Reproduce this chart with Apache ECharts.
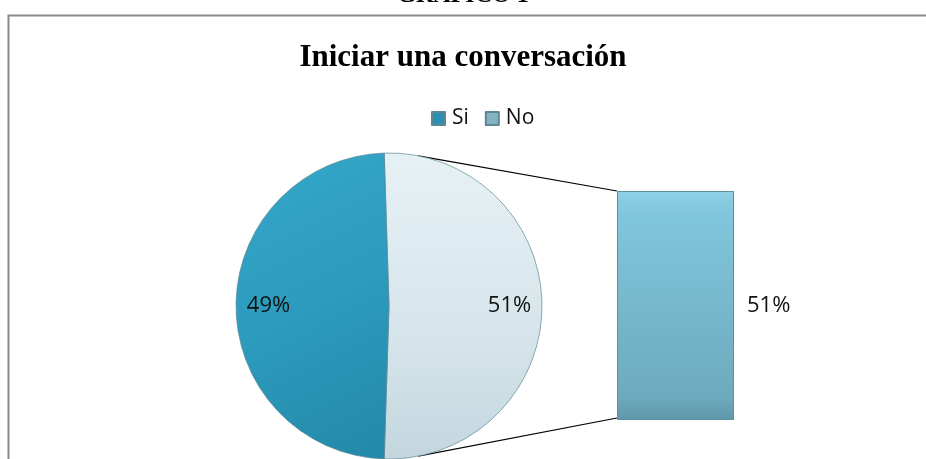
<!DOCTYPE html>
<html><head><meta charset="utf-8">
<script src="https://cdn.jsdelivr.net/npm/echarts@6/dist/echarts.min.js"></script>
<style>html,body{margin:0;padding:0;background:#fff}#c{width:926px;height:459px}</style>
</head><body><div id="c"></div>
<script>
const categories = ['Si', 'No'];
const pieValues = [49, 51];
const barCategories = ['No'];
const barValues = [51];

const chart = echarts.init(document.getElementById('c'));
const cx = 389, cy = 306, R = 153;
const gridL = 617, gridT = 191, gridW = 117, gridH = 229;
const colSi = new echarts.graphic.LinearGradient(0, 0, 1, 1, [{offset:0,color:'#35a8ca'},{offset:0.5,color:'#2c9bbd'},{offset:1,color:'#2388a8'}]);
const colNo = new echarts.graphic.LinearGradient(0, 0, 0, 1, [{offset:0,color:'#e6f1f5'},{offset:0.6,color:'#d6e5eb'},{offset:1,color:'#c3d6de'}]);
const colors = {Si: colSi, No: colNo};
// pie data: No first clockwise from just left of top
const pieData = [
  {name: categories[1], value: pieValues[1], itemStyle:{color: colors.No}},
  {name: categories[0], value: pieValues[0], itemStyle:{color: colors.Si}}
];
const fmt = p => Math.round(p.percent) + '%';
const labelFont = {fontFamily:'Open Sans, Liberation Sans, sans-serif', fontSize:22, color:'#111'};

chart.setOption({
  animation:false,
  title:{text:'Iniciar una conversación', left:'center', top:37,
    textStyle:{fontFamily:'Liberation Serif, Times New Roman, serif', fontWeight:'bold', fontSize:31, color:'#000'}},
  legend:{data:[{name:categories[0], itemStyle:{color:'#2a8fb0'}}, {name:categories[1], itemStyle:{color:'#86b3c3'}}],
    top:103, left:426, icon:'rect', itemWidth:13, itemHeight:13, itemGap:16,
    textStyle:{fontFamily:'Open Sans, Liberation Sans, sans-serif', fontSize:21, color:'#111', padding:[0,0,0,2]}},
  grid:{left:gridL, top:gridT, width:gridW, height:gridH},
  xAxis:{type:'category', data:barCategories, show:false},
  yAxis:{type:'value', min:0, max:barValues[0], show:false},
  graphic:[
    {type:'text', left:'center', top:-16, style:{text:'GRAFICO 1', fontFamily:'Liberation Serif, serif', fontWeight:'bold', fontSize:24, fill:'#000'}},
    {type:'rect', shape:{x:8.5, y:15.5, width:940, height:470}, style:{fill:'none', stroke:'#8a8a8a', lineWidth:2}, z:-1},
    {type:'line', shape:{x1:cx+R*Math.cos(79*Math.PI/180), y1:cy-R*Math.sin(79*Math.PI/180), x2:gridL, y2:gridT}, style:{stroke:'#000', lineWidth:1.2}},
    {type:'line', shape:{x1:cx+R*Math.cos(79*Math.PI/180), y1:cy+R*Math.sin(79*Math.PI/180), x2:gridL, y2:gridT+gridH-2}, style:{stroke:'#000', lineWidth:1.2}}
  ],
  series:[
    {type:'pie', center:[cx,cy], radius:[0,R], startAngle:91.8, clockwise:true, data:pieData,
      itemStyle:{borderColor:'#5f8693', borderWidth:0.7}, label:{show:false}, labelLine:{show:false}, silent:true},
    {type:'pie', center:[cx,cy], radius:[82,R], startAngle:91.8, clockwise:true, data:pieData.map(d=>({name:d.name, value:d.value})),
      itemStyle:{color:'rgba(0,0,0,0)'}, label:{show:true, position:'inside', formatter:fmt, ...labelFont}, labelLine:{show:false}, silent:true, legendHoverLink:false, z:3},
    {type:'bar', data:barValues, barWidth:'100%',
      itemStyle:{color:new echarts.graphic.LinearGradient(0,0,0,1,[{offset:0,color:'#8fd0e5'},{offset:0.1,color:'#80c6dc'},{offset:0.9,color:'#6eaabd'},{offset:1,color:'#5f97a8'}]), borderColor:'#5d8fa0', borderWidth:1},
      label:{show:true, position:'right', distance:13, formatter: p => p.value + '%', ...labelFont}}
  ]
});
</script></body></html>
